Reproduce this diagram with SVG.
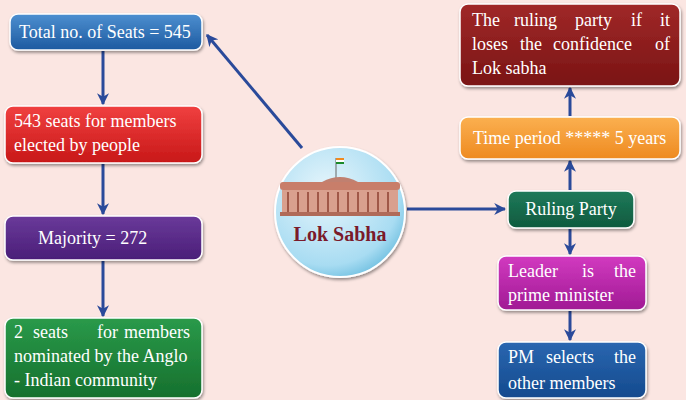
<svg xmlns="http://www.w3.org/2000/svg" width="686" height="400" viewBox="0 0 686 400">
<defs>
<style>
.t{font-family:"Liberation Serif",serif;font-size:18px;fill:#fff}
.e{text-anchor:end}
.c{stroke:#2a4a9a;stroke-width:3;fill:none;marker-end:url(#a)}
.b{stroke:#fff;stroke-width:1.5;filter:url(#s)}
</style>
<marker id="a" viewBox="0 0 10 10" refX="9" refY="5" markerWidth="4" markerHeight="4" orient="auto"><path d="M0,0L10,5L0,10L3,5Z" fill="#2a4a9a"/></marker>
<filter id="s" x="-10%" y="-10%" width="120%" height="130%"><feDropShadow dx="1" dy="2" stdDeviation="1.5" flood-opacity="0.4"/></filter>
<radialGradient id="cg" cx="40%" cy="35%" r="70%"><stop offset="0" stop-color="#e8f6fc"/><stop offset="0.8" stop-color="#a8dcf2"/><stop offset="1" stop-color="#6fbfe0"/></radialGradient>
<linearGradient id="g1" x1="0" y1="0" x2="0" y2="1"><stop offset="0" stop-color="#4d8fd0"/><stop offset="1" stop-color="#1d5aa0"/></linearGradient>
<linearGradient id="g2" x1="0" y1="0" x2="0" y2="1"><stop offset="0" stop-color="#f04040"/><stop offset="1" stop-color="#c81818"/></linearGradient>
<linearGradient id="g3" x1="0" y1="0" x2="0" y2="1"><stop offset="0" stop-color="#6a3a9a"/><stop offset="1" stop-color="#4a1e78"/></linearGradient>
<linearGradient id="g4" x1="0" y1="0" x2="0" y2="1"><stop offset="0" stop-color="#2a9a4a"/><stop offset="1" stop-color="#16702e"/></linearGradient>
<linearGradient id="g5" x1="0" y1="0" x2="0" y2="1"><stop offset="0" stop-color="#a02828"/><stop offset="1" stop-color="#7a1414"/></linearGradient>
<linearGradient id="g6" x1="0" y1="0" x2="0" y2="1"><stop offset="0" stop-color="#fbb050"/><stop offset="1" stop-color="#ee8a20"/></linearGradient>
<linearGradient id="g7" x1="0" y1="0" x2="0" y2="1"><stop offset="0" stop-color="#1f7a5a"/><stop offset="1" stop-color="#0e5a3e"/></linearGradient>
<linearGradient id="g8" x1="0" y1="0" x2="0" y2="1"><stop offset="0" stop-color="#d23ac0"/><stop offset="1" stop-color="#a01a94"/></linearGradient>
<linearGradient id="g9" x1="0" y1="0" x2="0" y2="1"><stop offset="0" stop-color="#2a66b0"/><stop offset="1" stop-color="#144a8e"/></linearGradient>
</defs>
<rect width="686" height="400" fill="#fbe6e2"/>
<g id="connectors">
<line class="c" x1="302" y1="148" x2="207" y2="35"/>
<line class="c" x1="407" y1="209" x2="505" y2="209"/>
<line class="c" x1="103" y1="51" x2="103" y2="104"/>
<line class="c" x1="103" y1="164" x2="103" y2="214"/>
<line class="c" x1="103" y1="261" x2="103" y2="316"/>
<line class="c" x1="570" y1="190" x2="570" y2="161"/>
<line class="c" x1="570" y1="116" x2="570" y2="88"/>
<line class="c" x1="570" y1="229" x2="570" y2="254"/>
<line class="c" x1="570" y1="311" x2="570" y2="340"/>
</g>
<g id="n1"><rect class="b" x="10" y="14" width="192" height="36" rx="8" fill="url(#g1)"/><text class="t" x="19" y="38">Total no. of Seats = 545</text></g>
<g id="n2"><rect class="b" x="5" y="106" width="197" height="57" rx="8" fill="url(#g2)"/><text class="t" x="14" y="127">543 seats for members</text><text class="t" x="14" y="151">elected by people</text></g>
<g id="n3"><rect class="b" x="5" y="216" width="197" height="44" rx="8" fill="url(#g3)"/><text class="t" x="38" y="244">Majority = 272</text></g>
<g id="n4"><rect class="b" x="5" y="318" width="197" height="80" rx="8" fill="url(#g4)"/><text class="t" x="14" y="338">2</text><text class="t" x="33" y="338">seats</text><text class="t" x="97" y="338">for</text><text class="t e" x="190" y="338">members</text><text class="t" x="14" y="362">nominated by the Anglo</text><text class="t" x="14" y="386">- Indian community</text></g>
<g id="center">
<circle cx="340" cy="212" r="65" fill="url(#cg)" stroke="#fff" stroke-width="2" filter="url(#s)"/>
<line x1="336" y1="158" x2="336" y2="178" stroke="#666" stroke-width="1"/>
<rect x="336" y="158" width="8" height="2" fill="#f08a20"/><rect x="336" y="160" width="8" height="2" fill="#fff"/><rect x="336" y="162" width="8" height="2" fill="#1a8a2a"/>
<path d="M322,182Q340,172 358,182Z" fill="#c08070"/>
<rect x="280" y="182" width="120" height="8" rx="3" fill="#c87e6a"/>
<rect x="282" y="190" width="116" height="24" fill="#d9a08e"/>
<g stroke="#a05848" stroke-width="2"><line x1="288" y1="192" x2="288" y2="212"/><line x1="298" y1="192" x2="298" y2="212"/><line x1="308" y1="192" x2="308" y2="212"/><line x1="318" y1="192" x2="318" y2="212"/><line x1="328" y1="192" x2="328" y2="212"/><line x1="338" y1="192" x2="338" y2="212"/><line x1="348" y1="192" x2="348" y2="212"/><line x1="358" y1="192" x2="358" y2="212"/><line x1="368" y1="192" x2="368" y2="212"/><line x1="378" y1="192" x2="378" y2="212"/><line x1="388" y1="192" x2="388" y2="212"/></g>
<rect x="280" y="212" width="120" height="4" fill="#b06a58"/>
<text x="340" y="241" text-anchor="middle" style="font-family:'Liberation Serif',serif;font-size:20px;font-weight:bold;fill:#7a1a2a">Lok Sabha</text>
</g>
<g id="r1"><rect class="b" x="460" y="4" width="220" height="82" rx="8" fill="url(#g5)"/><text class="t" x="472" y="26">The</text><text class="t" x="514" y="26">ruling</text><text class="t" x="575" y="26">party</text><text class="t" x="631" y="26">if</text><text class="t e" x="670" y="26">it</text><text class="t" x="472" y="50">loses</text><text class="t" x="520" y="50">the</text><text class="t" x="553" y="50">confidence</text><text class="t e" x="670" y="50">of</text><text class="t" x="472" y="74">Lok sabha</text></g>
<g id="r2"><rect class="b" x="460" y="117" width="220" height="42" rx="8" fill="url(#g6)"/><text class="t" x="473" y="144">Time period ***** 5 years</text></g>
<g id="r3"><rect class="b" x="508" y="191" width="126" height="37" rx="8" fill="url(#g7)"/><text class="t" x="571" y="215" text-anchor="middle">Ruling Party</text></g>
<g id="r4"><rect class="b" x="498" y="256" width="148" height="54" rx="8" fill="url(#g8)"/><text class="t" x="508" y="277">Leader</text><text class="t" x="582" y="277">is</text><text class="t e" x="636" y="277">the</text><text class="t" x="508" y="301">prime minister</text></g>
<g id="r5"><rect class="b" x="498" y="342" width="148" height="56" rx="8" fill="url(#g9)"/><text class="t" x="508" y="363">PM</text><text class="t" x="546" y="363">selects</text><text class="t e" x="636" y="363">the</text><text class="t" x="508" y="389">other members</text></g>
</svg>
